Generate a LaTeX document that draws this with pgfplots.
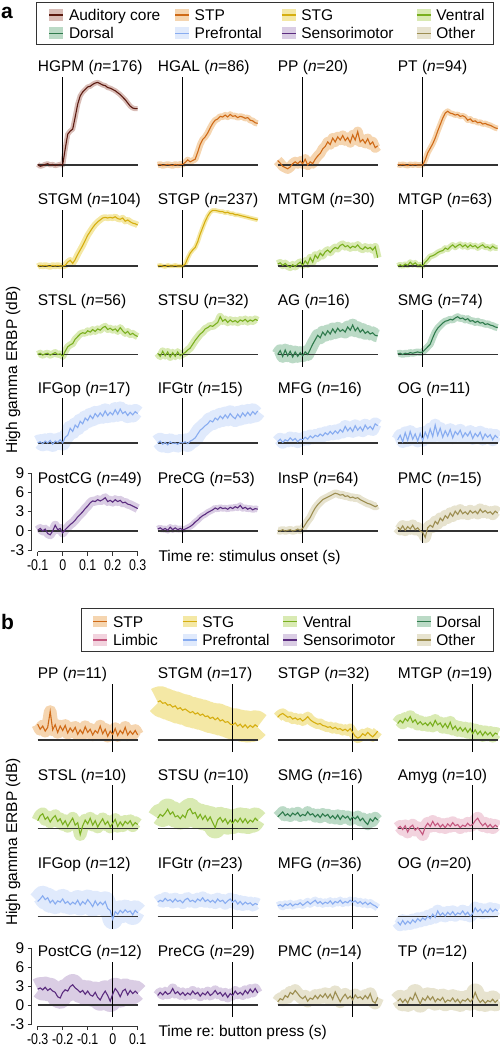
\documentclass[border=0pt]{standalone}
\usepackage{pgfplots}
\pgfplotsset{compat=1.18}
\usepackage{pgfplotstable}
\usepackage{fontspec}
\setmainfont{Liberation Sans}
\frenchspacing

\newcommand\fs{\fontsize{15.5}{18}\selectfont}

% line / band colours per region group
\definecolor{audL}{HTML}{5C1A10}\definecolor{audB}{HTML}{D9BDB7}
\definecolor{stpL}{HTML}{CF6A17}\definecolor{stpB}{HTML}{F5D5B0}
\definecolor{stgL}{HTML}{D6AE10}\definecolor{stgB}{HTML}{F4E8A5}
\definecolor{venL}{HTML}{79AF1F}\definecolor{venB}{HTML}{D9EAB3}
\definecolor{dorL}{HTML}{2E7A4C}\definecolor{dorB}{HTML}{BBDAC6}
\definecolor{preL}{HTML}{88ACF0}\definecolor{preB}{HTML}{E0EAFC}
\definecolor{senL}{HTML}{5B2C7F}\definecolor{senB}{HTML}{DACDE4}
\definecolor{othL}{HTML}{9D8E52}\definecolor{othB}{HTML}{E7E3CF}
\definecolor{limL}{HTML}{C4577F}\definecolor{limB}{HTML}{F2D3DE}
\definecolor{axc}{HTML}{333333}

% panel a: mean high gamma ERBP (dB) per region, time re: stimulus onset (s)
\pgfplotstableread[header=false]{
t -0.10 -0.09 -0.08 -0.07 -0.06 -0.05 -0.04 -0.03 -0.02 -0.01 0.00 0.01 0.02 0.03 0.04 0.05 0.06 0.07 0.08 0.09 0.10 0.11 0.12 0.13 0.14 0.15 0.16 0.17 0.18 0.19 0.20 0.21 0.22 0.23 0.24 0.25 0.26 0.27 0.28 0.29 0.30
HGPM 0.1 -0.2 -0.1 0.1 0.2 0.0 0.1 -0.1 0.0 0.1 0.0 2.5 4.8 5.3 5.6 7.5 9.5 10.8 11.4 11.8 12.2 12.3 12.6 12.8 12.9 12.7 12.5 12.4 12.1 12.0 11.8 11.6 11.3 11.0 10.6 10.2 9.7 9.2 8.9 8.8 8.8
HGAL 0.0 0.1 -0.1 0.0 0.1 0.0 -0.1 0.1 0.0 0.1 0.1 0.4 0.8 0.5 0.7 0.9 2.0 3.2 4.0 4.4 5.0 5.8 6.5 7.0 7.2 7.6 7.5 7.8 7.5 7.9 7.6 7.7 7.4 7.6 7.5 7.3 7.4 7.0 6.9 6.6 6.5
PP 0.7 0.3 -0.2 -0.4 -0.6 -0.3 0.2 0.5 0.2 0.6 0.2 0.9 0.0 0.5 0.2 0.9 1.4 1.8 2.5 2.9 3.6 3.2 4.2 3.6 4.4 3.9 4.6 3.8 4.3 3.5 4.7 3.9 5.2 3.6 4.0 3.4 4.1 3.2 3.6 2.7 3.0
PT 0.1 0.0 0.1 0.0 -0.1 0.1 0.0 0.1 0.0 0.0 0.0 0.8 1.9 2.6 3.3 4.2 5.3 6.3 7.3 8.1 8.4 8.1 8.0 7.8 7.9 7.6 7.7 7.5 7.0 7.2 6.8 6.9 6.6 6.7 6.4 6.5 6.3 6.2 6.0 5.8 5.7
STGM -0.1 0.1 0.0 0.1 0.0 -0.1 0.1 0.0 0.1 0.0 0.0 0.1 0.6 0.9 0.4 1.0 1.8 2.5 3.2 4.0 4.8 5.4 6.0 6.5 6.9 7.2 7.5 7.6 7.5 7.6 7.5 7.7 7.4 7.3 7.5 7.0 7.2 6.9 6.7 6.6 6.4
STGP 0.0 0.1 0.0 -0.1 0.1 0.0 0.0 0.1 0.0 0.0 0.0 0.3 1.2 2.0 2.5 2.9 3.8 5.0 6.0 7.0 7.8 8.4 8.7 8.7 8.6 8.5 8.5 8.3 8.4 8.2 8.2 8.0 8.0 7.9 7.8 7.7 7.6 7.5 7.4 7.3 7.2
MTGM 0.3 0.5 0.1 0.4 0.0 -0.2 0.2 -0.1 0.3 0.6 0.1 0.8 0.3 1.3 0.6 1.7 1.2 2.0 1.6 2.2 2.5 2.1 2.6 2.9 2.7 3.2 3.4 3.0 3.2 2.8 3.1 2.9 3.3 2.8 2.6 3.0 2.7 2.9 2.5 3.0 1.3
MTGP 0.0 0.2 0.0 0.3 0.1 0.6 0.2 0.5 0.1 0.2 0.0 0.6 1.0 1.5 1.6 1.8 2.1 2.3 2.4 2.8 2.6 3.0 3.3 2.9 3.2 3.4 3.0 3.3 2.9 3.3 3.0 3.2 2.8 3.1 3.3 2.9 3.0 2.7 3.1 2.8 2.8
STSL 0.0 0.2 -0.1 0.1 0.2 -0.1 0.1 0.3 0.0 0.1 -0.3 0.5 1.2 1.5 1.7 2.4 2.8 3.2 3.4 3.3 3.7 3.5 3.9 3.6 4.0 3.8 4.2 4.4 3.9 4.1 3.8 4.0 3.6 4.2 3.7 3.3 3.6 3.1 3.3 3.0 2.8
STSU 0.2 -0.3 0.5 -0.2 0.4 -0.4 0.3 -0.3 0.4 -0.2 0.1 0.3 0.7 1.0 1.6 2.2 2.7 3.2 3.5 4.0 4.2 4.5 4.4 4.7 5.0 5.9 5.2 5.5 5.0 5.4 5.1 5.3 5.0 5.4 5.2 5.5 5.1 5.4 5.2 5.5 5.3
AG 0.0 0.6 -0.3 0.7 -0.2 0.5 -0.4 0.4 -0.3 0.3 -0.2 0.4 0.0 0.8 1.6 2.3 3.0 2.6 3.5 3.0 3.7 3.2 4.0 3.4 4.1 3.6 3.9 3.5 4.3 3.8 4.6 3.7 4.2 3.5 3.9 3.3 3.6 3.2 3.4 3.0 2.9
SMG 0.1 0.2 0.0 0.2 0.1 0.3 0.2 0.3 0.4 0.3 0.4 0.8 1.2 1.6 2.6 3.5 4.1 4.5 4.9 5.2 5.3 5.5 5.4 5.7 5.9 5.6 5.7 5.4 5.6 5.2 5.3 5.0 5.2 4.9 5.0 4.7 4.8 4.6 4.5 4.3 4.2
IFGop 0.0 0.2 -0.1 0.3 0.0 0.4 -0.2 0.3 0.1 0.5 0.0 0.9 1.2 2.3 1.8 2.8 2.4 3.4 3.0 3.9 3.5 4.3 3.8 4.6 4.1 4.7 4.2 5.0 4.3 4.8 4.4 5.2 4.5 5.3 4.6 4.9 4.3 4.8 4.4 4.9 4.6
IFGtr 0.0 0.3 -0.2 0.1 -0.3 0.2 -0.1 0.0 -0.2 0.1 0.0 0.2 -0.1 0.3 0.5 0.8 1.4 2.0 2.3 2.7 3.0 3.5 3.3 3.9 3.6 4.2 3.8 4.4 3.9 4.6 4.1 3.8 4.5 4.0 4.7 4.2 4.8 4.3 4.9 4.5 5.0
MFG 0.2 0.6 0.1 0.5 0.3 0.8 0.4 0.7 0.2 0.6 0.5 0.9 0.6 1.1 0.8 1.2 1.0 1.4 1.1 1.6 1.3 1.8 1.4 1.9 1.5 2.1 1.7 2.6 1.9 2.4 1.8 2.7 2.0 2.5 1.9 2.8 2.2 2.6 2.1 3.0 2.7
OG 0.5 1.2 0.2 1.6 0.4 1.8 0.6 1.4 0.3 1.5 0.4 1.7 0.8 2.2 1.0 2.8 1.2 2.3 0.9 1.9 1.1 2.1 0.8 1.8 1.3 2.0 0.9 1.6 1.1 1.8 0.7 1.5 1.0 1.7 0.6 1.4 0.9 1.3 0.5 1.2 0.8
PostCG 0.1 0.4 0.0 0.3 -0.4 -0.6 0.0 0.9 0.2 0.4 -0.3 0.2 0.6 1.0 1.3 1.7 2.2 2.6 3.0 3.5 3.9 4.4 4.7 4.6 4.9 4.7 4.9 5.2 4.6 4.8 4.5 4.9 4.6 4.8 4.4 4.5 4.2 4.1 3.9 3.7 3.5
PreCG 0.3 0.5 0.2 0.4 0.1 0.6 0.2 0.5 0.2 0.4 0.2 0.3 0.5 0.7 1.0 1.4 1.7 2.1 2.4 2.6 2.9 3.1 3.3 3.6 3.4 3.7 3.5 3.6 3.4 3.7 3.5 3.8 3.6 4.0 3.5 3.7 3.4 3.6 3.3 3.5 3.4
InsP 0.1 0.0 0.2 0.0 0.1 0.2 0.0 0.1 0.3 0.1 0.4 1.0 1.6 2.1 2.9 3.6 4.1 4.5 4.9 5.1 5.3 5.5 5.7 5.9 5.8 5.6 5.7 5.4 5.5 5.2 5.3 5.1 5.2 4.9 4.7 4.5 4.3 4.2 4.0 3.8 4.0
PMC 0.6 0.2 0.8 0.1 0.7 0.3 0.9 0.2 0.5 0.0 -0.2 -1.0 0.5 0.9 0.6 1.5 1.1 2.0 1.6 2.4 2.0 2.8 2.3 3.1 2.6 3.3 2.7 3.0 2.6 3.2 2.8 3.1 2.7 3.4 2.9 3.2 2.8 3.0 2.6 3.1 2.8
}\rawA
\pgfplotstabletranspose[colnames from=0]\tabA\rawA

% panel b: mean high gamma ERBP (dB) per region, time re: button press (s)
\pgfplotstableread[header=false]{
t -0.30 -0.29 -0.28 -0.27 -0.26 -0.25 -0.24 -0.23 -0.22 -0.21 -0.20 -0.19 -0.18 -0.17 -0.16 -0.15 -0.14 -0.13 -0.12 -0.11 -0.10 -0.09 -0.08 -0.07 -0.06 -0.05 -0.04 -0.03 -0.02 -0.01 0.00 0.01 0.02 0.03 0.04 0.05 0.06 0.07 0.08 0.09 0.10
PP 2.5 1.7 2.2 1.4 2.0 4.5 1.6 2.4 1.2 2.2 1.5 2.3 1.1 1.9 1.3 2.0 0.9 1.6 1.0 2.1 1.2 1.7 0.8 1.5 1.1 2.2 1.0 1.7 0.6 1.4 0.9 1.8 0.7 1.5 1.0 2.0 0.8 1.4 0.9 1.5 0.8
STGM 6.0 6.2 5.8 5.9 5.5 5.6 5.2 5.4 4.9 5.1 4.7 4.9 4.6 4.3 4.5 4.1 4.3 3.9 4.1 3.7 3.8 3.4 3.6 3.2 3.5 3.0 3.2 2.8 2.9 2.5 2.4 2.7 2.2 2.5 2.0 2.4 1.9 2.3 2.0 2.4 2.1
STGP 3.6 4.0 4.2 3.9 3.6 3.7 3.3 3.5 3.2 3.4 3.0 3.3 3.7 3.2 2.9 2.7 2.5 2.6 2.3 2.2 2.0 2.1 1.8 2.0 1.7 1.8 1.5 1.7 1.4 1.8 1.2 0.6 0.3 0.5 1.0 0.7 1.2 0.8 0.5 0.9 1.4
MTGP 2.6 3.1 2.7 3.4 3.0 3.7 2.8 3.2 2.5 2.9 2.4 2.7 2.3 2.8 2.2 3.1 2.4 2.7 2.0 2.6 1.9 2.8 1.7 2.2 1.5 2.0 1.4 1.9 1.2 1.8 1.0 1.6 0.9 1.4 0.7 1.3 0.8 1.2 0.6 1.1 0.9
STSL 1.2 2.0 2.3 1.4 1.8 1.0 1.6 2.0 1.1 1.5 0.6 1.2 0.3 1.0 1.6 0.5 0.9 -1.0 0.4 1.3 0.7 1.6 0.5 1.2 0.2 0.9 1.5 0.6 1.1 0.2 0.8 1.4 0.3 1.0 0.4 1.1 0.7 1.2 0.4 0.9 0.6
STSU 1.6 2.2 1.9 2.4 3.0 2.2 2.6 1.8 2.0 1.5 2.1 1.7 2.8 3.1 2.3 2.5 1.6 2.2 1.4 2.0 1.2 1.8 0.9 0.1 1.3 1.7 1.0 1.5 0.7 1.3 0.8 1.4 1.0 1.6 0.9 1.5 0.8 1.3 1.0 1.6 1.2
SMG 1.8 2.2 2.6 2.0 2.3 1.9 2.4 2.1 2.5 1.9 2.2 2.0 2.6 2.1 2.3 1.8 2.2 1.7 2.3 1.9 2.2 1.6 2.0 1.5 2.1 1.4 2.0 1.6 1.9 1.3 1.8 1.5 1.9 1.2 1.6 1.0 0.6 1.5 1.1 1.7 1.3
Amyg 0.0 0.3 -0.2 0.4 -0.6 0.2 0.5 -0.3 0.1 -0.4 -1.0 0.2 0.8 0.3 1.1 0.4 0.8 0.2 0.6 0.1 0.7 0.3 0.9 0.4 0.6 0.1 0.5 0.3 0.8 0.4 0.6 1.2 1.6 0.9 0.4 0.8 0.2 0.6 0.1 0.5 0.2
IFGop 2.4 2.8 3.3 2.7 3.0 2.2 2.6 2.0 2.5 2.3 2.8 2.1 2.4 1.9 2.3 2.0 2.6 1.8 2.4 2.0 2.7 2.2 1.6 2.5 1.8 2.3 1.9 2.4 1.3 1.0 -0.4 0.8 0.4 1.0 0.6 1.1 0.7 0.9 0.3 1.0 0.6
IFGtr 2.3 2.6 2.4 2.9 2.5 2.7 2.3 2.8 2.4 2.6 2.2 2.7 2.9 2.4 2.6 2.3 2.8 2.5 3.0 2.4 2.7 2.3 2.6 2.2 2.8 2.4 2.6 2.1 2.5 2.8 2.3 2.6 2.0 2.4 1.9 2.3 2.0 2.2 1.8 2.1 1.9
MFG 1.7 1.9 1.6 2.0 1.8 2.1 1.7 2.0 1.9 2.2 1.8 2.1 2.4 2.0 2.3 2.6 2.1 2.4 2.0 2.3 2.1 2.5 2.0 2.4 2.2 2.6 2.1 2.4 2.2 2.6 2.3 2.5 2.1 2.4 2.0 2.3 1.9 2.2 1.9 1.7 1.4
OG -0.8 -1.3 -0.6 -1.2 -0.7 -1.1 -0.5 -0.9 -0.3 -0.7 -0.2 -0.5 0.1 -0.3 0.4 -0.1 0.9 0.2 0.6 0.1 0.7 0.3 0.8 0.2 0.6 0.4 0.9 0.3 0.7 0.1 0.5 1.4 0.8 1.2 0.6 1.1 0.7 1.3 0.8 1.2 0.9
PostCG 2.5 2.7 2.4 2.8 2.3 2.6 2.2 2.0 1.3 1.1 2.0 2.4 2.2 2.9 3.2 2.7 2.4 2.0 2.3 1.7 2.2 1.6 1.4 2.0 1.2 0.8 1.6 2.2 1.5 0.6 1.7 2.6 2.1 1.3 2.2 2.5 1.6 2.3 1.8 2.2 1.8
PreCG 1.5 2.0 1.6 2.1 1.7 1.9 2.6 1.8 2.1 1.6 2.0 1.5 1.9 1.6 2.2 1.7 2.0 1.4 1.9 1.6 2.1 1.5 1.8 2.3 1.7 2.0 1.4 1.9 1.2 1.8 1.5 2.2 1.7 2.0 1.6 2.3 1.8 2.5 2.0 2.6 1.9
PMC 0.5 1.0 0.8 1.5 1.2 2.0 1.7 2.3 1.8 1.3 1.0 1.4 0.6 1.1 0.9 1.5 1.0 1.6 1.2 1.8 1.1 1.7 0.9 2.1 1.3 0.5 1.2 1.7 1.0 1.4 0.8 1.6 1.1 1.3 0.9 1.5 1.0 1.8 0.6 0.3 1.2
TP 0.6 1.0 0.4 0.9 0.3 1.2 0.8 1.9 1.0 0.2 1.1 0.7 1.4 0.8 1.3 0.5 1.0 0.7 1.2 0.4 0.8 0.6 1.1 0.5 0.9 0.3 0.8 0.6 1.0 0.5 0.9 2.0 1.0 0.4 0.8 0.3 0.7 0.5 0.9 0.4 0.8
}\rawB
\pgfplotstabletranspose[colnames from=0]\tabB\rawB

% one small panel: hidden axes, SE band, zero lines, mean trace, title
\pgfplotsset{
  cellax/.style={anchor=south west, scale only axis, x=250pt, y=\ysc pt,
    xmin=\xlo, xmax=\xhi, ymin=-1.9, hide axis, clip=false, enlargelimits=false},
}
% #1 left (px), #2 zero line (px from top), #3 ymax, #4 colour, #5 n,
% #6 table, #7 region, #8 half-width of the band (dB)
\newcommand\cell[8]{%
  \begin{axis}[cellax, ymax=#3, at={({#1pt},{1050pt-#2pt-1.9*\ysc pt})}]
    \addplot[#4B, line width={2*#8*\ysc pt}, line join=round] table[x=t, y=#7]{#6};
    \addplot[axc, line width=1.1pt] coordinates {(\xlo,0) (\xhi,0)};
    \addplot[black, line width=1pt] coordinates {(0,-1.9) (0,#3)};
    \addplot[#4L, line width=1.1pt] table[x=t, y=#7]{#6};
    \node[anchor=base west, inner sep=0pt, font=\fs] at (rel axis cs:0,1) [yshift=5pt] {#7 (\textit{n}=#5)};
  \end{axis}}

% legend entry: swatch left x, centre y (px from top), colour, text
\newcommand\legitem[4]{%
  \fill[#3B] (#1pt,{1050pt-#2pt-5.8pt}) rectangle ({#1pt+14pt},{1050pt-#2pt+5.8pt});
  \draw[#3L, line width=1.3pt] (#1pt,{1050pt-#2pt}) -- ({#1pt+14pt},{1050pt-#2pt});
  \node[anchor=base west, inner sep=0pt] at ({#1pt+19.5pt},{1050pt-#2pt-5.5pt}) {#4};}

\pgfplotsset{
  frameax/.style={anchor=south west, scale only axis, x=250pt, y=\ysc pt,
    ymin=-3, ymax=9, axis x line*=bottom, axis y line*=left,
    ytick={-3,0,3,6,9}, yticklabels={-3,0,3,6,9},
    tick align=outside, major tick length=4pt,
    axis line style={line width=0.9pt, axc}, tick style={line width=0.9pt, axc},
    tick label style={font=\fs, black},
    xticklabel style={xscale=0.8}, axis y line shift=6pt},
}

\begin{document}
\begin{tikzpicture}[font=\fs]
\useasboundingbox (0pt,0pt) rectangle (500pt,1050pt);

%% ---------------- panel a ----------------
\node[anchor=base west, inner sep=0pt, font=\fontsize{21}{24}\selectfont\bfseries] at (1pt,{1050pt-18.5pt}) {a};
\draw[line width=0.9pt, axc] (36.7pt,{1050pt-2.7pt}) rectangle (493.3pt,{1050pt-44.3pt});
\legitem{49.3}{15}{aud}{Auditory core}
\legitem{175}{15}{stp}{STP}
\legitem{281.7}{15}{stg}{STG}
\legitem{416.7}{15}{ven}{Ventral}
\legitem{49.3}{33.3}{dor}{Dorsal}
\legitem{175}{33.3}{pre}{Prefrontal}
\legitem{281.7}{33.3}{sen}{Sensorimotor}
\legitem{416.7}{33.3}{oth}{Other}

\def\xlo{-0.1}\def\xhi{0.3}\def\ysc{6.4}
\cell{37.7}{165}{13.8}{aud}{176}{\tabA}{HGPM}{0.4}
\cell{157.7}{165}{13.8}{stp}{86}{\tabA}{HGAL}{0.5}
\cell{277.7}{165}{13.8}{stp}{20}{\tabA}{PP}{0.8}
\cell{397.7}{165}{13.8}{stp}{94}{\tabA}{PT}{0.45}

\cell{37.7}{266}{8.75}{stg}{104}{\tabA}{STGM}{0.5}
\cell{157.7}{266}{8.75}{stg}{237}{\tabA}{STGP}{0.35}
\cell{277.7}{266}{8.75}{ven}{30}{\tabA}{MTGM}{0.6}
\cell{397.7}{266}{8.75}{ven}{63}{\tabA}{MTGP}{0.45}

\cell{37.7}{354.5}{6.9}{ven}{56}{\tabA}{STSL}{0.55}
\cell{157.7}{354.5}{6.9}{ven}{32}{\tabA}{STSU}{0.6}
\cell{277.7}{354.5}{6.9}{dor}{16}{\tabA}{AG}{1.0}
\cell{397.7}{354.5}{6.9}{dor}{74}{\tabA}{SMG}{0.55}

\cell{37.7}{443}{7.0}{pre}{17}{\tabA}{IFGop}{1.2}
\cell{157.7}{443}{7.0}{pre}{15}{\tabA}{IFGtr}{1.3}
\cell{277.7}{443}{7.0}{pre}{16}{\tabA}{MFG}{1.0}
\cell{397.7}{443}{7.0}{pre}{11}{\tabA}{OG}{1.0}

\cell{37.7}{531}{6.7}{sen}{49}{\tabA}{PostCG}{0.7}
\cell{157.7}{531}{6.7}{sen}{53}{\tabA}{PreCG}{0.5}
\cell{277.7}{531}{6.7}{oth}{64}{\tabA}{InsP}{0.6}
\cell{397.7}{531}{6.7}{oth}{15}{\tabA}{PMC}{0.9}

\begin{axis}[frameax, at={(37.7pt,{1050pt-550pt})}, xmin=-0.1, xmax=0.3,
  xtick={-0.1,0,0.1,0.2,0.3}, xticklabels={-0.1,0,0.1,0.2,0.3}, axis x line shift=1.7pt]
\end{axis}
\node[rotate=90, inner sep=0pt] at (13pt,{1050pt-370pt}) {High gamma ERBP (dB)};
\node[anchor=base west, inner sep=0pt] at (158.3pt,{1050pt-562pt}) {Time re: stimulus onset (s)};

%% ---------------- panel b ----------------
\node[anchor=base west, inner sep=0pt, font=\fontsize{21}{24}\selectfont\bfseries] at (1pt,{1050pt-630pt}) {b};
\draw[line width=0.9pt, axc] (81pt,{1050pt-608.3pt}) rectangle (493.3pt,{1050pt-651.7pt});
\legitem{93.3}{621.7}{stp}{STP}
\legitem{182.7}{621.7}{stg}{STG}
\legitem{283.3}{621.7}{ven}{Ventral}
\legitem{416.7}{621.7}{dor}{Dorsal}
\legitem{93.3}{640}{lim}{Limbic}
\legitem{182.7}{640}{pre}{Prefrontal}
\legitem{283.3}{640}{sen}{Sensorimotor}
\legitem{416.7}{640}{oth}{Other}

\def\xlo{-0.3}\def\xhi{0.1}\def\ysc{6.33}
\cell{37.7}{740}{8.9}{stp}{11}{\tabB}{PP}{1.0}
\cell{157.7}{740}{8.9}{stg}{17}{\tabB}{STGM}{2.3}
\cell{277.7}{740}{8.9}{stg}{32}{\tabB}{STGP}{0.8}
\cell{397.7}{740}{8.9}{ven}{19}{\tabB}{MTGP}{1.0}

\cell{37.7}{828.3}{6.8}{ven}{10}{\tabB}{STSL}{1.0}
\cell{157.7}{828.3}{6.8}{ven}{10}{\tabB}{STSU}{1.7}
\cell{277.7}{828.3}{6.8}{dor}{16}{\tabB}{SMG}{0.9}
\cell{397.7}{828.3}{6.8}{lim}{10}{\tabB}{Amyg}{1.0}

\cell{37.7}{916.7}{6.8}{pre}{12}{\tabB}{IFGop}{1.6}
\cell{157.7}{916.7}{6.8}{pre}{23}{\tabB}{IFGtr}{1.0}
\cell{277.7}{916.7}{6.8}{pre}{36}{\tabB}{MFG}{0.6}
\cell{397.7}{916.7}{6.8}{pre}{20}{\tabB}{OG}{1.0}

\cell{37.7}{1005}{6.8}{sen}{12}{\tabB}{PostCG}{1.7}
\cell{157.7}{1005}{6.8}{sen}{29}{\tabB}{PreCG}{0.8}
\cell{277.7}{1005}{6.8}{oth}{14}{\tabB}{PMC}{1.0}
\cell{397.7}{1005}{6.8}{oth}{12}{\tabB}{TP}{1.4}

\begin{axis}[frameax, at={(37.7pt,{1050pt-1024pt})}, xmin=-0.3, xmax=0.1,
  xtick={-0.3,-0.2,-0.1,0,0.1}, xticklabels={-0.3,-0.2,-0.1,0,0.1}, axis x line shift=2pt]
\end{axis}
\node[rotate=90, inner sep=0pt] at (13pt,{1050pt-842pt}) {High gamma ERBP (dB)};
\node[anchor=base west, inner sep=0pt] at (158.3pt,{1050pt-1037pt}) {Time re: button press (s)};
\end{tikzpicture}
\end{document}
